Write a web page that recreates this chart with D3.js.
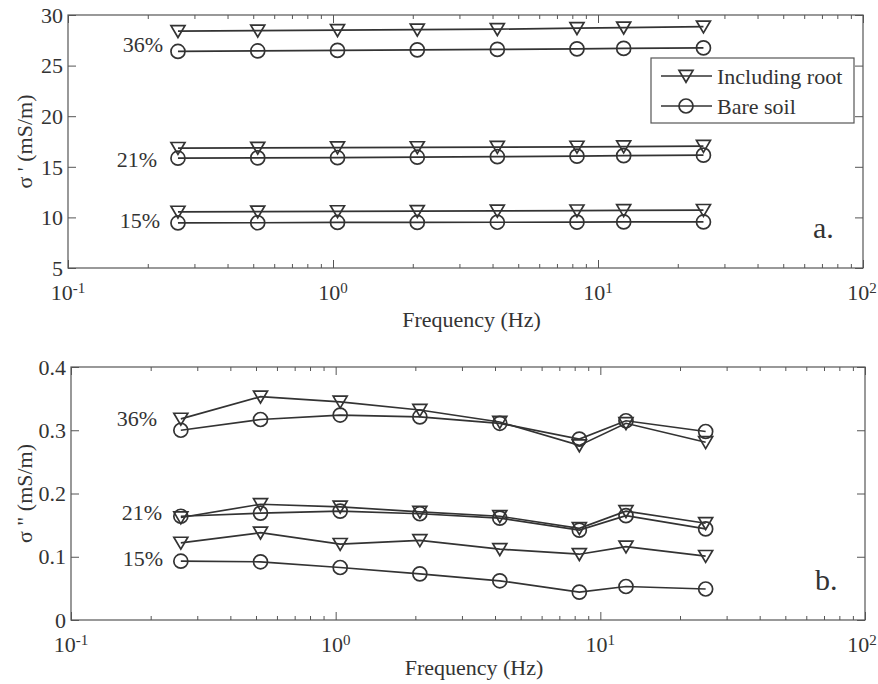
<!DOCTYPE html>
<html>
<head>
<meta charset="utf-8">
<script src="https://cdn.jsdelivr.net/npm/d3@7/dist/d3.min.js"></script>
<style>
  body { margin: 0; background: #fff; }
  svg text { font-family: "Liberation Serif", "DejaVu Serif", serif; fill: #333; }
</style>
</head>
<body>
<div id="chart"></div>
<script>
(function () {
  'use strict';

  // frequencies (Hz)
  var freq = [0.26, 0.52, 1.04, 2.08, 4.17, 8.33, 12.5, 25];
  var moisture = ['36%', '21%', '15%'];

  // panel a: sigma' (mS/m)
  var realRoot = [
    [28.4, 28.45, 28.5, 28.55, 28.6, 28.7, 28.75, 28.85],
    [16.85, 16.87, 16.9, 16.92, 16.95, 16.97, 17.0, 17.05],
    [10.55, 10.57, 10.6, 10.62, 10.65, 10.67, 10.7, 10.72]
  ];
  var realBare = [
    [26.4, 26.45, 26.5, 26.55, 26.6, 26.65, 26.7, 26.75],
    [15.85, 15.88, 15.9, 15.95, 16.0, 16.05, 16.1, 16.15],
    [9.45, 9.47, 9.5, 9.5, 9.52, 9.53, 9.55, 9.55]
  ];

  // panel b: sigma'' (mS/m)
  var imagRoot = [
    [0.318, 0.353, 0.345, 0.332, 0.313, 0.276, 0.311, 0.281],
    [0.162, 0.183, 0.179, 0.171, 0.164, 0.145, 0.172, 0.153],
    [0.122, 0.138, 0.120, 0.126, 0.112, 0.104, 0.116, 0.101]
  ];
  var imagBare = [
    [0.300, 0.317, 0.324, 0.321, 0.311, 0.286, 0.315, 0.298],
    [0.164, 0.169, 0.172, 0.168, 0.161, 0.142, 0.165, 0.144],
    [0.093, 0.092, 0.083, 0.073, 0.062, 0.044, 0.053, 0.049]
  ];

  var realTicks = [5, 10, 15, 20, 25, 30];
  var imagTicks = [0, 0.1, 0.2, 0.3, 0.4];
  var decades = [0.1, 1, 10, 100];
  var decadeExp = ['-1', '0', '1', '2'];
  var legendLabels = ['Including root', 'Bare soil'];

  var W = 878, H = 684;
  var ink = '#333';
  var fs = 22;
  var svg = d3.select('#chart').append('svg').attr('width', W).attr('height', H);

  var minor = [];
  [0.1, 1, 10].forEach(function (d) { for (var k = 2; k <= 9; k++) minor.push(d * k); });

  function tri(g, x, y) {
    var s = 7;
    g.append('path')
      .attr('d', 'M' + (x - s) + ',' + (y - s * 0.8) + 'L' + (x + s) + ',' + (y - s * 0.8) + 'L' + x + ',' + (y + s * 0.9) + 'Z')
      .attr('fill', 'none').attr('stroke', ink).attr('stroke-width', 1.7);
  }
  function circ(g, x, y) {
    g.append('circle').attr('cx', x).attr('cy', y).attr('r', 7)
      .attr('fill', 'none').attr('stroke', ink).attr('stroke-width', 1.7);
  }

  function panel(opt) {
    var x = d3.scaleLog().domain([0.1, 100]).range([opt.left, opt.right]);
    var y = d3.scaleLinear().domain(opt.yDomain).range([opt.bottom, opt.top]);
    var g = svg.append('g');

    // box
    g.append('rect').attr('x', opt.left).attr('y', opt.top)
      .attr('width', opt.right - opt.left).attr('height', opt.bottom - opt.top)
      .attr('fill', 'none').attr('stroke', '#555').attr('stroke-width', 1.2);

    // x ticks inward, bottom and top
    var xb = d3.axisBottom(x).tickValues(decades).tickSize(-8).tickFormat('');
    var xbm = d3.axisBottom(x).tickValues(minor).tickSize(-4).tickFormat('');
    var xt = d3.axisTop(x).tickValues(decades).tickSize(-8).tickFormat('');
    var xtm = d3.axisTop(x).tickValues(minor).tickSize(-4).tickFormat('');
    [[xb, opt.bottom], [xbm, opt.bottom], [xt, opt.top], [xtm, opt.top]].forEach(function (a) {
      var ax = g.append('g').attr('transform', 'translate(0,' + a[1] + ')').call(a[0]);
      ax.select('.domain').remove();
      ax.selectAll('line').attr('stroke', '#555');
    });

    // y ticks inward, left and right
    var yl = d3.axisLeft(y).tickValues(opt.yTicks).tickSize(-8).tickFormat('');
    var yr = d3.axisRight(y).tickValues(opt.yTicks).tickSize(-8).tickFormat('');
    [[yl, opt.left], [yr, opt.right]].forEach(function (a) {
      var ax = g.append('g').attr('transform', 'translate(' + a[1] + ',0)').call(a[0]);
      ax.select('.domain').remove();
      ax.selectAll('line').attr('stroke', '#555');
    });

    // y tick labels
    g.selectAll('text.ylab').data(opt.yTicks).enter().append('text')
      .attr('x', opt.left - 5).attr('y', function (d) { return y(d); })
      .attr('dy', '0.35em').attr('text-anchor', 'end').attr('font-size', fs)
      .text(function (d) { return d3.format(opt.yFmt)(d); });

    // x tick labels 10^n (last one pulled in to stay inside the page, as in the original)
    decades.forEach(function (d, i) {
      var t = g.append('text').attr('x', Math.min(x(d), W - 16)).attr('y', opt.bottom + opt.xLabOff)
        .attr('text-anchor', 'middle').attr('font-size', fs);
      t.append('tspan').text('10');
      t.append('tspan').attr('dy', -7).attr('font-size', 15).text(decadeExp[i]);
    });

    // axis titles
    g.append('text').attr('x', (opt.left + opt.right) / 2 + 6).attr('y', opt.bottom + opt.titleOff)
      .attr('text-anchor', 'middle').attr('font-size', fs).text('Frequency (Hz)');
    g.append('text').attr('transform', 'translate(' + 32 + ',' + ((opt.top + opt.bottom) / 2) + ') rotate(-90)')
      .attr('text-anchor', 'middle').attr('font-size', fs).text(opt.yTitle);

    var line = d3.line().x(function (d) { return x(d[0]); }).y(function (d) { return y(d[1]); });

    function series(vals, marker) {
      vals.forEach(function (v) {
        var pts = freq.map(function (f, i) { return [f, v[i]]; });
        g.append('path').attr('d', line(pts)).attr('fill', 'none')
          .attr('stroke', ink).attr('stroke-width', 1.7);
        pts.forEach(function (p) { marker(g, x(p[0]), y(p[1])); });
      });
    }
    series(opt.bare, circ);
    series(opt.root, tri);

    // moisture labels
    moisture.forEach(function (m, i) {
      g.append('text').attr('x', opt.labelX[i]).attr('y', y(opt.labelY[i]))
        .attr('dy', '0.35em').attr('text-anchor', 'end').attr('font-size', fs).text(m);
    });

    // panel letter
    g.append('text').attr('x', opt.right - 50).attr('y', opt.bottom - 30)
      .attr('text-anchor', 'start').attr('font-size', 30).text(opt.letter);

    return { x: x, y: y, g: g };
  }

  panel({
    left: 68, right: 863, top: 15, bottom: 268,
    yDomain: [5, 30], yTicks: realTicks, yFmt: 'd',
    yTitle: "σ ' (mS/m)", root: realRoot, bare: realBare,
    labelX: [163, 157, 160], labelY: [27.15, 15.7, 9.75], letter: 'a.',
    xLabOff: 32, titleOff: 59
  });

  panel({
    left: 71, right: 865, top: 367, bottom: 620,
    yDomain: [0, 0.4], yTicks: imagTicks, yFmt: '.1~f',
    yTitle: 'σ " (mS/m)', root: imagRoot, bare: imagBare,
    labelX: [157, 162, 163], labelY: [0.319, 0.171, 0.098], letter: 'b.',
    xLabOff: 32, titleOff: 55
  });

  // legend (panel a)
  var lg = svg.append('g');
  lg.append('rect').attr('x', 651).attr('y', 58).attr('width', 203).attr('height', 65)
    .attr('fill', '#fff').attr('stroke', '#555').attr('stroke-width', 1.2);
  legendLabels.forEach(function (lab, i) {
    var yy = 76 + i * 30;
    lg.append('line').attr('x1', 661).attr('x2', 712).attr('y1', yy).attr('y2', yy)
      .attr('stroke', ink).attr('stroke-width', 1.7);
    if (i === 0) tri(lg, 686, yy); else circ(lg, 686, yy);
    lg.append('text').attr('x', 717).attr('y', yy).attr('dy', '0.35em')
      .attr('font-size', fs).text(lab);
  });
})();
</script>
</body>
</html>
